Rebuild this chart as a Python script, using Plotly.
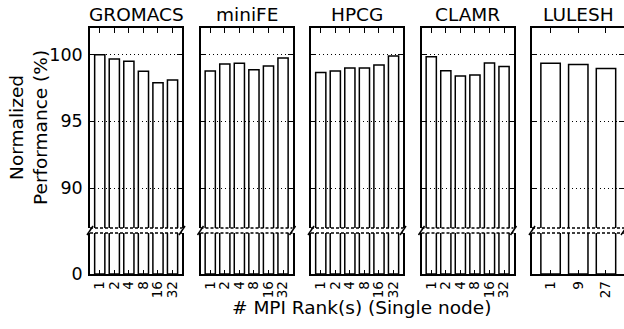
import plotly.graph_objects as go

# ---------------- data ----------------
apps = ["GROMACS", "miniFE", "HPCG", "CLAMR", "LULESH"]
ranks_std = ["1", "2", "4", "8", "16", "32"]
ranks_lulesh = ["1", "9", "27"]

gromacs = [100.0, 99.67, 99.5, 98.75, 97.9, 98.1]
minife = [98.77, 99.3, 99.35, 98.87, 99.15, 99.75]
hpcg = [98.67, 98.77, 99.0, 99.0, 99.22, 99.9]
clamr = [99.85, 98.8, 98.4, 98.47, 99.37, 99.12]
lulesh = [99.35, 99.27, 98.97]

values = [gromacs, minife, hpcg, clamr, lulesh]
ranks = [ranks_std, ranks_std, ranks_std, ranks_std, ranks_lulesh]

upper_ticks = [90, 95, 100]
lower_ticks = [0]
upper_range = [87, 102]
lower_range = [0, 3]

# ---------------- layout geometry ----------------
W, H = 624, 329
ml, mr, mt, mb = 90, 0, 28, 55
pw = W - ml - mr
ph = H - mt - mb
panel_w = 92
pitch = 110.5
lower_h = 41
gap = 5

FONT = "DejaVu Sans"
fig = go.Figure()
shapes = []
annotations = []


def sfx(n):
    return "" if n == 1 else str(n)


up_dom = [(lower_h + gap) / ph, 1.0]
lo_dom = [0.0, lower_h / ph]

for i, (app, xs, ys) in enumerate(zip(apps, ranks, values)):
    x0 = i * pitch / pw
    x1 = min(1.0, (i * pitch + panel_w) / pw)
    nu = i + 1
    nl = i + 6
    su, sl = sfx(nu), sfx(nl)
    n = len(xs)
    xr = [-0.67, n - 1 + 0.65]

    for s in (su, sl):
        fig.add_trace(go.Bar(
            x=xs, y=ys,
            xaxis=f"x{s}", yaxis=f"y{s}",
            width=0.7,
            marker=dict(color="rgba(255,255,255,0)",
                        line=dict(color="black", width=1.5)),
            showlegend=False, hoverinfo="x+y",
        ))

    common_x = dict(type="category", range=xr, showgrid=False, zeroline=False,
                    showline=True, linecolor="black", linewidth=1.5,
                    ticks="inside", tickcolor="black", tickwidth=1,
                    tickmode="array", tickvals=xs, ticktext=xs,
                    automargin=False,
                    domain=[x0, x1], fixedrange=True)
    fig.layout[f"xaxis{su}"] = dict(common_x, side="top", ticklen=5,
                                    showticklabels=False, anchor=f"y{su}")
    fig.layout[f"xaxis{sl}"] = dict(common_x, side="bottom", ticklen=4,
                                    tickangle=-90,
                                    tickfont=dict(family=FONT, size=13.5, color="black"),
                                    anchor=f"y{sl}")

    common_y = dict(showline=True, linecolor="black", linewidth=1.5,
                    mirror="ticks", ticks="inside", ticklen=5,
                    tickcolor="black", tickwidth=1, zeroline=False,
                    showticklabels=(i == 0), automargin=False,
                    ticklabelstandoff=2,
                    tickfont=dict(family=FONT, size=17.5, color="black"),
                    fixedrange=True)
    fig.layout[f"yaxis{su}"] = dict(common_y, range=upper_range, tickvals=upper_ticks,
                                    showgrid=True, gridcolor="black", gridwidth=1,
                                    griddash="1px,3px", domain=up_dom, anchor=f"x{su}")
    fig.layout[f"yaxis{sl}"] = dict(common_y, range=lower_range, tickvals=lower_ticks,
                                    showgrid=False, domain=lo_dom, anchor=f"x{sl}")

    # dashed break edges
    shapes.append(dict(type="line", xref=f"x{su} domain", yref=f"y{su} domain",
                       x0=0, x1=1, y0=0, y1=0,
                       line=dict(color="black", width=1.5, dash="3px,2px")))
    shapes.append(dict(type="line", xref=f"x{sl} domain", yref=f"y{sl} domain",
                       x0=0, x1=1, y0=1, y1=1,
                       line=dict(color="black", width=1.5, dash="3px,2px")))
    # break slashes
    dx = 3.0 / panel_w
    yb = (lower_h - 2) / ph
    yt = (lower_h + gap + 2) / ph
    for ex in (0, 1):
        shapes.append(dict(type="line", xref=f"x{su} domain", yref="paper",
                           x0=ex - dx, x1=ex + dx, y0=yb, y1=yt,
                           line=dict(color="black", width=1.5)))

    annotations.append(dict(text=app, xref=f"x{su} domain", yref="paper",
                            x=0.5, y=1.0, xanchor="center", yanchor="bottom",
                            yshift=1, showarrow=False,
                            font=dict(family=FONT, size=18.5, color="black")))

annotations.append(dict(text="Normalized<br>Performance (%)", textangle=-90,
                        xref="paper", yref="paper",
                        x=(28 - ml) / pw, y=(mt + ph - 128) / ph,
                        xanchor="center", yanchor="middle", showarrow=False,
                        font=dict(family=FONT, size=18.5, color="black")))
annotations.append(dict(text="# MPI Rank(s) (Single node)",
                        xref="paper", yref="paper",
                        x=(361 - ml) / pw, y=(mt + ph - 307) / ph,
                        xanchor="center", yanchor="middle", showarrow=False,
                        font=dict(family=FONT, size=18.5, color="black")))

fig.update_layout(
    width=W, height=H,
    margin=dict(l=ml, r=mr, t=mt, b=mb, pad=0),
    paper_bgcolor="white", plot_bgcolor="white",
    font=dict(family=FONT, color="black"),
    shapes=shapes, annotations=annotations,
    bargap=0.3, showlegend=False,
)

fig.write_html("out.html",
               config={"displayModeBar": False},
               post_script="document.body.style.margin='0';document.body.style.overflow='hidden';")
